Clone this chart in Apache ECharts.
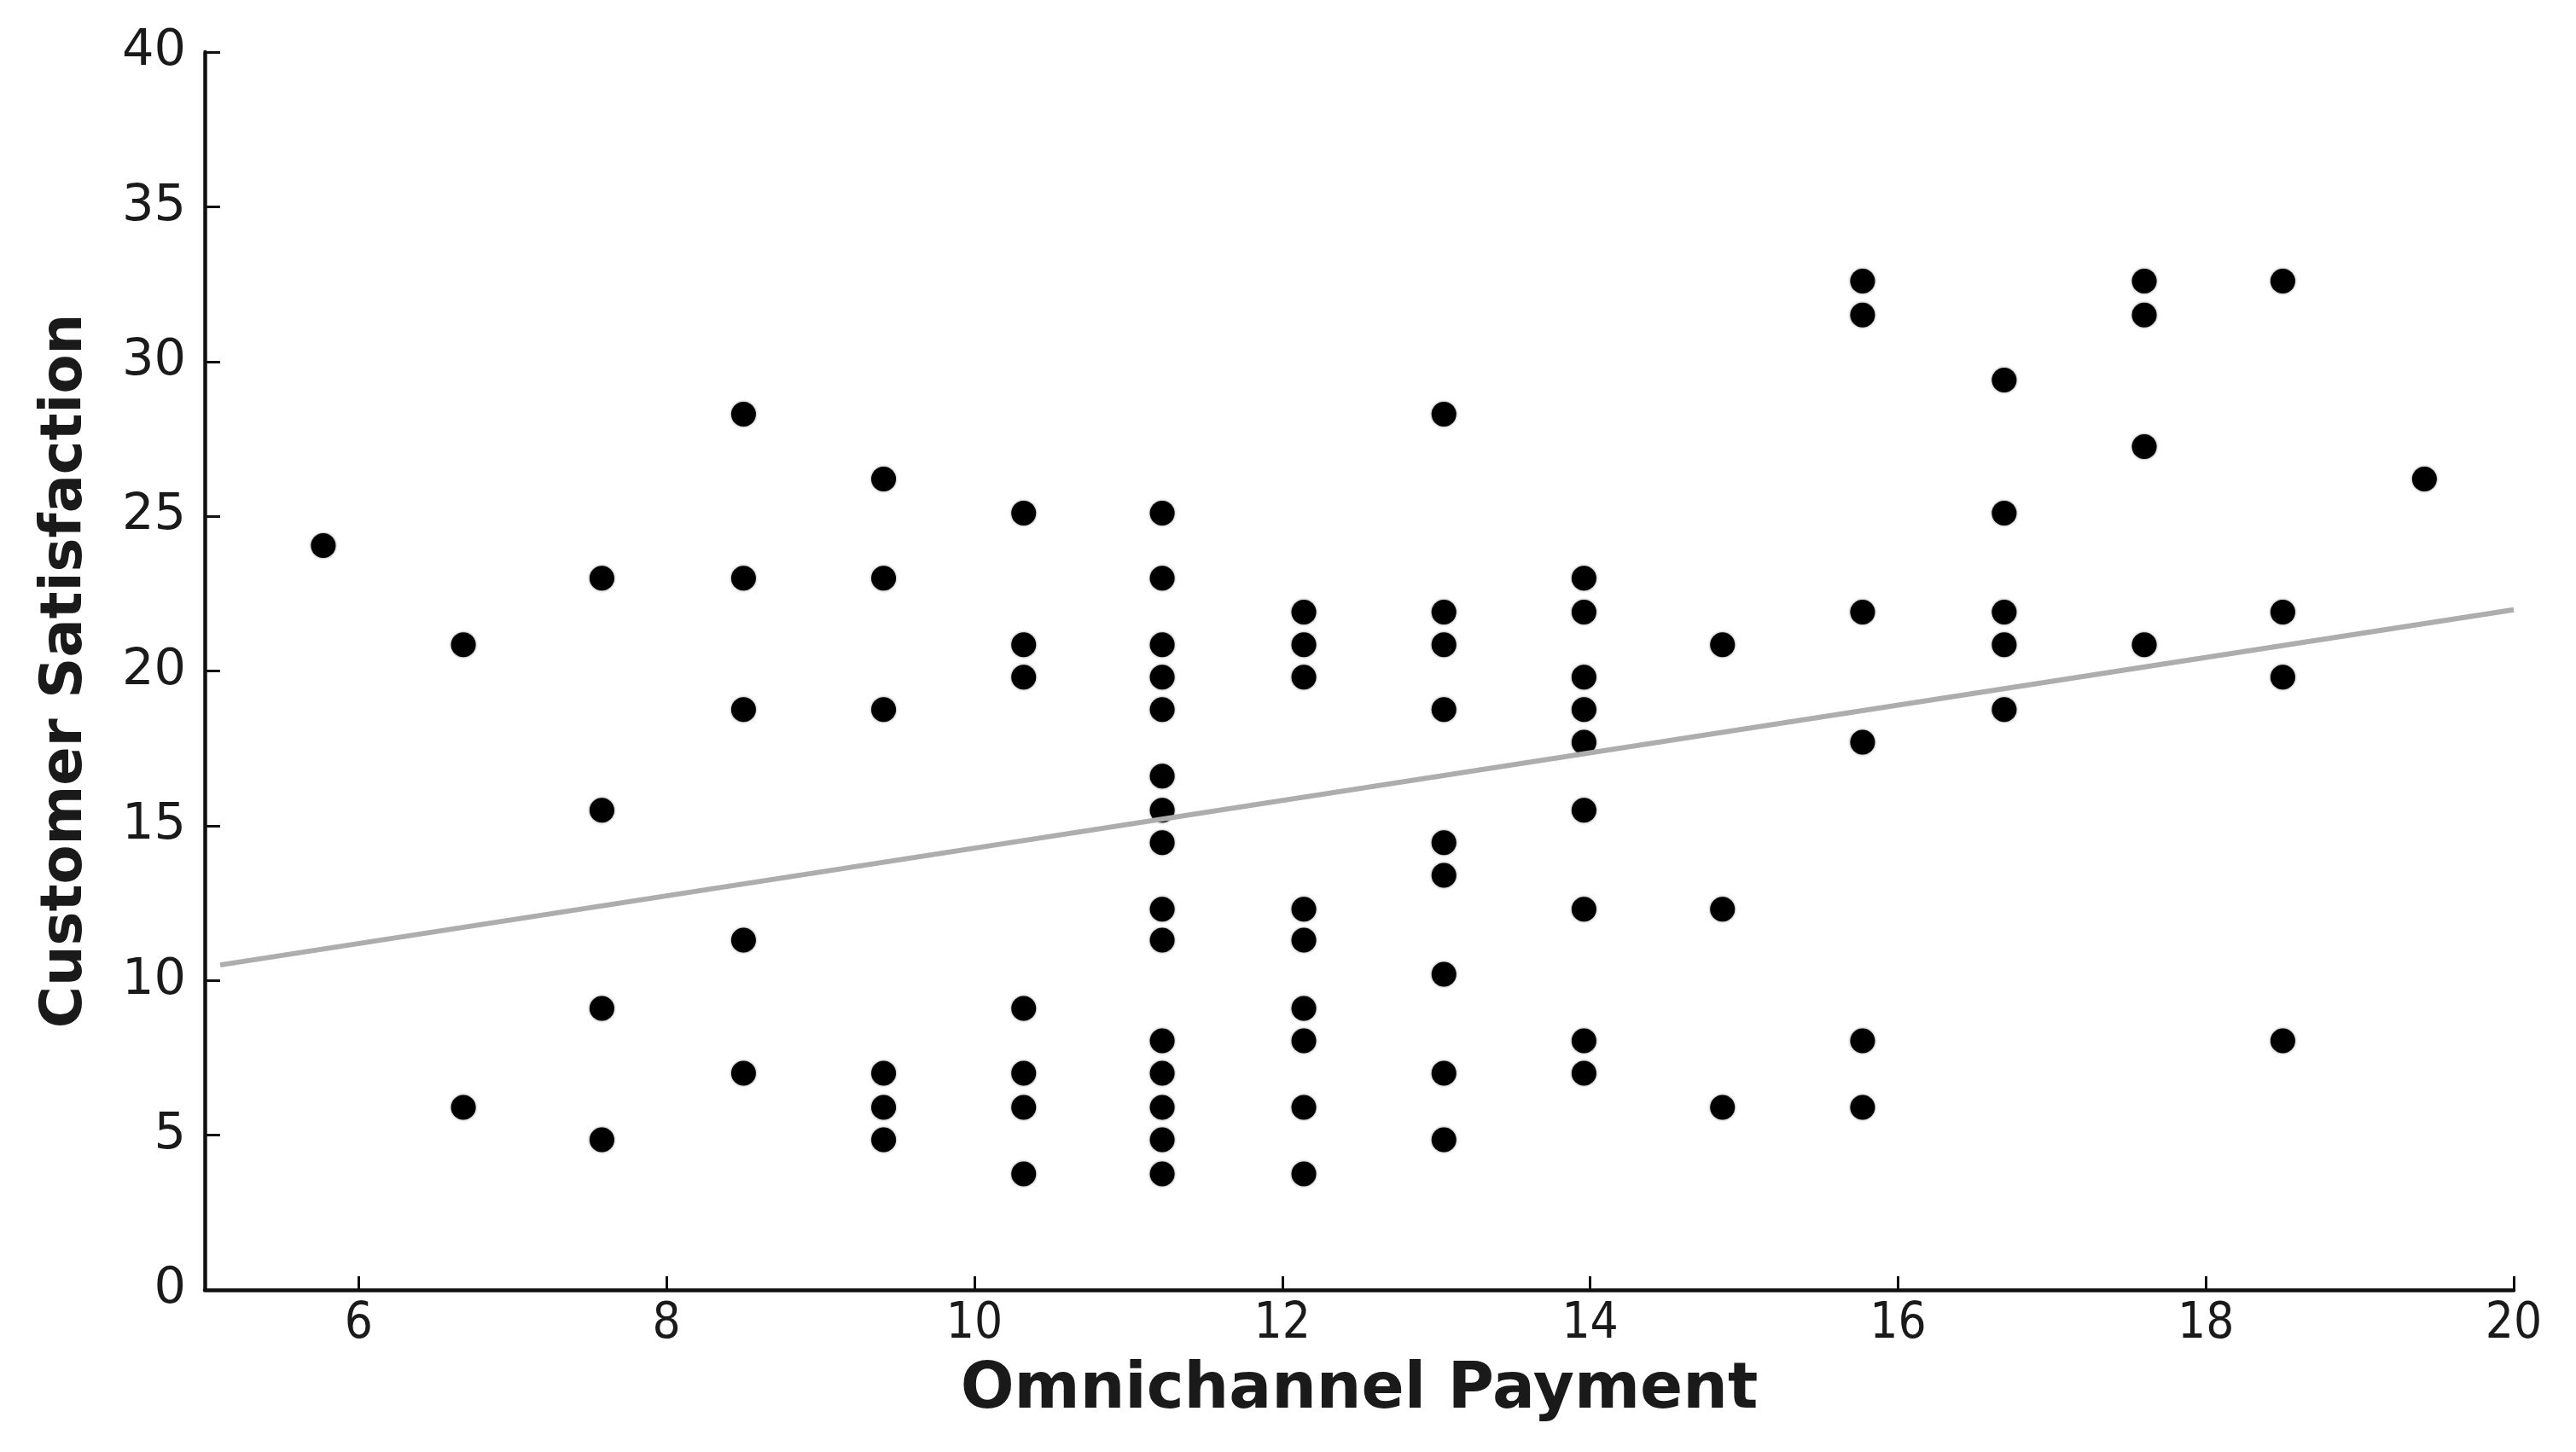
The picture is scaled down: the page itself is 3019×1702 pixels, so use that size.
<!DOCTYPE html>
<html>
<head>
<meta charset="utf-8">
<script src="https://cdn.jsdelivr.net/npm/echarts@6/dist/echarts.min.js"></script>
<style>
html,body{margin:0;padding:0;background:#fff;}
#chart{width:3019px;height:1702px;}
</style>
</head>
<body>
<div id="chart"></div>
<script>
// Omnichannel Payment (x) values of each point
const payment = [
  5.77,
  6.68, 6.68,
  7.58, 7.58, 7.58, 7.58,
  8.50, 8.50, 8.50, 8.50, 8.50,
  9.41, 9.41, 9.41, 9.41, 9.41, 9.41,
  10.32, 10.32, 10.32, 10.32, 10.32, 10.32, 10.32,
  11.22, 11.22, 11.22, 11.22, 11.22, 11.22, 11.22, 11.22, 11.22, 11.22, 11.22, 11.22, 11.22, 11.22, 11.22,
  12.14, 12.14, 12.14, 12.14, 12.14, 12.14, 12.14, 12.14, 12.14,
  13.05, 13.05, 13.05, 13.05, 13.05, 13.05, 13.05, 13.05, 13.05,
  13.96, 13.96, 13.96, 13.96, 13.96, 13.96, 13.96, 13.96, 13.96,
  14.86, 14.86, 14.86,
  15.77, 15.77, 15.77, 15.77, 15.77, 15.77,
  16.69, 16.69, 16.69, 16.69, 16.69,
  17.60, 17.60, 17.60, 17.60,
  18.50, 18.50, 18.50, 18.50,
  19.42
];
// Customer Satisfaction (y) values of each point
const satisfaction = [
  24.05,
  20.85, 5.9,
  23.0, 15.5, 9.1, 4.85,
  28.3, 23.0, 18.75, 11.3, 7.0,
  26.2, 23.0, 18.75, 7.0, 5.9, 4.85,
  25.1, 20.85, 19.8, 9.1, 7.0, 5.9, 3.75,
  25.1, 23.0, 20.85, 19.8, 18.75, 16.6, 15.5, 14.45, 12.3, 11.3, 8.05, 7.0, 5.9, 4.85, 3.75,
  21.9, 20.85, 19.8, 12.3, 11.3, 9.1, 8.05, 5.9, 3.75,
  28.3, 21.9, 20.85, 18.75, 14.45, 13.4, 10.2, 7.0, 4.85,
  23.0, 21.9, 19.8, 18.75, 17.7, 15.5, 12.3, 8.05, 7.0,
  20.85, 12.3, 5.9,
  32.6, 31.5, 21.9, 17.7, 8.05, 5.9,
  29.4, 25.1, 21.9, 20.85, 18.75,
  32.6, 31.5, 27.25, 20.85,
  32.6, 21.9, 19.8, 8.05,
  26.2
];
// Trend line end points
const trendX = [5.1, 20];
const trendY = [10.5, 21.98];
// Tick values
const xTicks = [6, 8, 10, 12, 14, 16, 18, 20];
const yMin = 0, yMax = 40, yStep = 5;
const xMin = 5, xMax = 20;

const points = payment.map((x, i) => [x, satisfaction[i]]);
const trend = trendX.map((x, i) => [x, trendY[i]]);

const chart = echarts.init(document.getElementById('chart'), null, {renderer: 'canvas'});
chart.setOption({
  animation: false,
  backgroundColor: '#ffffff',
  grid: {left: 240, right: 73, top: 61, bottom: 190, containLabel: false},
  xAxis: {
    type: 'value',
    min: xMin, max: xMax,
    name: 'Omnichannel Payment',
    nameLocation: 'middle',
    nameGap: 82,
    nameTextStyle: {fontFamily: 'DejaVu Sans', fontWeight: 'bold', fontSize: 74, color: '#1a1a1a'},
    axisLine: {show: true, onZero: false, lineStyle: {color: '#111', width: 4.5}},
    axisTick: {show: true, inside: true, length: 16, customValues: xTicks, lineStyle: {color: '#111', width: 3}},
    axisLabel: {show: true, customValues: xTicks, margin: 12, fontFamily: 'DejaVu Sans Condensed, DejaVu Sans', fontSize: 58, color: '#1a1a1a'},
    splitLine: {show: false}
  },
  yAxis: {
    type: 'value',
    min: yMin, max: yMax, interval: yStep,
    name: 'Customer Satisfaction',
    nameLocation: 'middle',
    nameGap: 129,
    nameRotate: 90,
    nameTextStyle: {fontFamily: 'DejaVu Sans', fontWeight: 'bold', fontSize: 67, color: '#1a1a1a'},
    axisLine: {show: true, lineStyle: {color: '#111', width: 4.5}},
    axisTick: {show: true, inside: true, length: 18, lineStyle: {color: '#111', width: 3}},
    axisLabel: {show: true, margin: 22, fontFamily: 'DejaVu Sans', fontSize: 59, color: '#1a1a1a'},
    splitLine: {show: false}
  },
  series: [
    {
      type: 'scatter',
      data: points,
      symbol: 'circle',
      symbolSize: 29,
      itemStyle: {color: '#000000', opacity: 1, shadowBlur: 3, shadowColor: 'rgba(0,0,0,0.5)'},
      z: 2
    },
    {
      type: 'line',
      data: trend,
      symbol: 'none',
      lineStyle: {color: '#adadad', width: 6},
      z: 3
    }
  ]
});
</script>
</body>
</html>
